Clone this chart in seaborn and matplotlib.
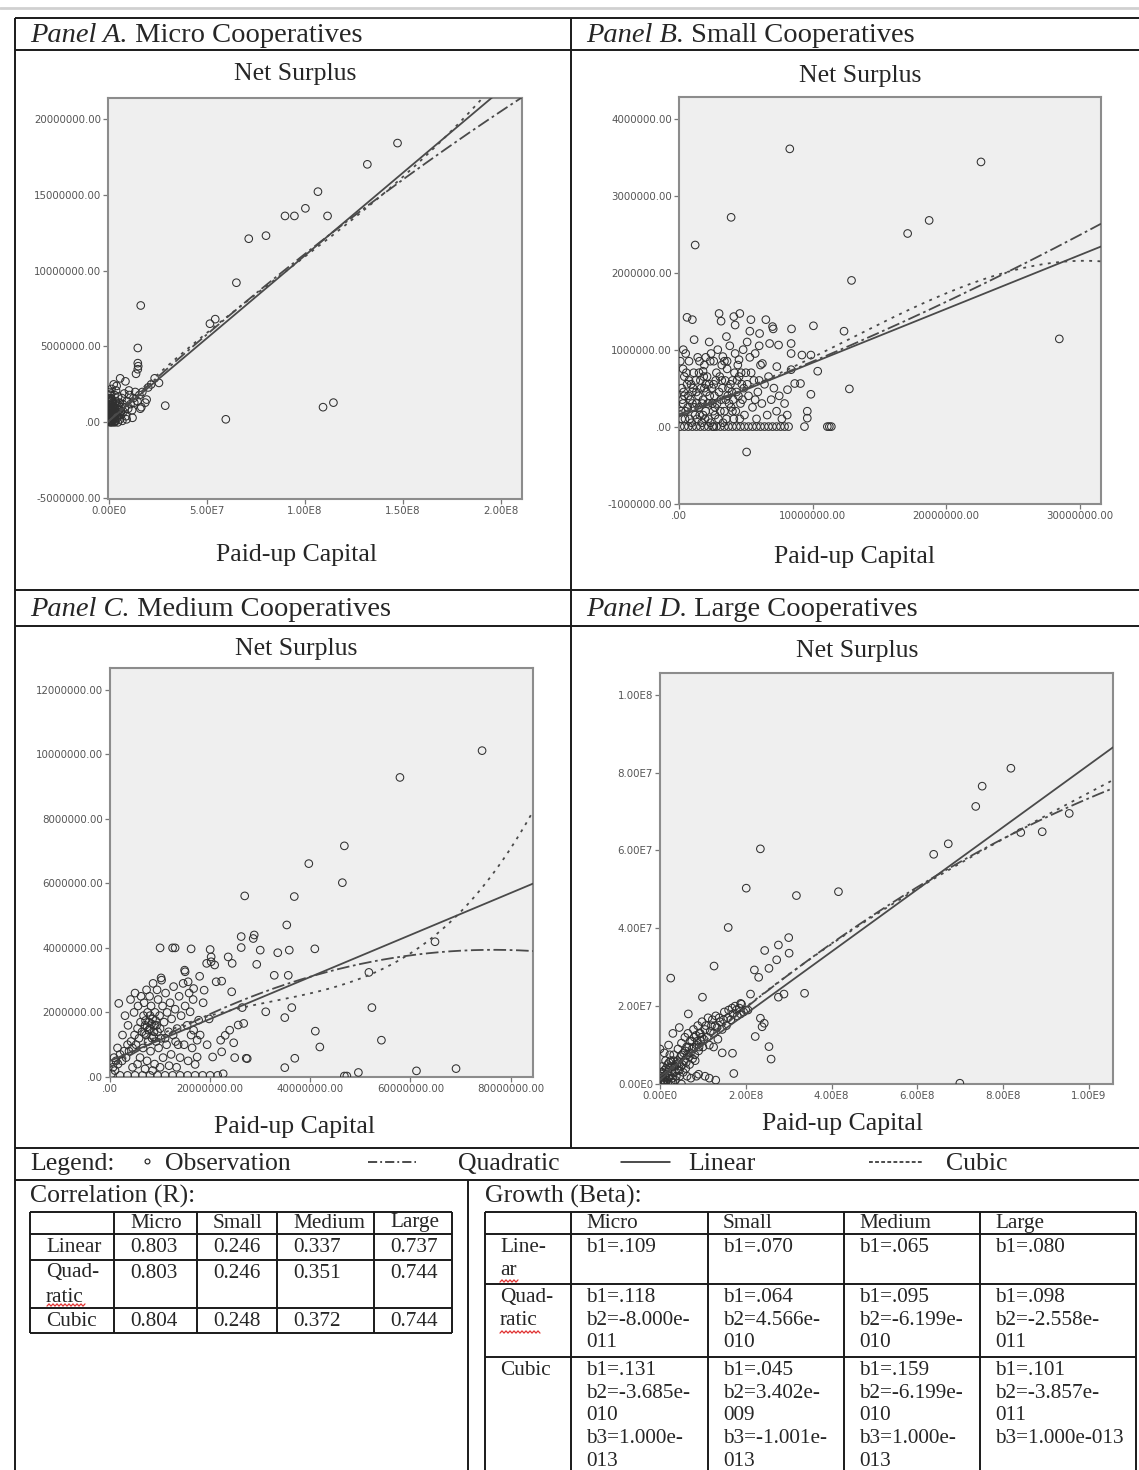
import numpy as np
import matplotlib
matplotlib.use("Agg")
import matplotlib.pyplot as plt
import seaborn as sns

W, H = 1139, 1470

# ---------------- data ----------------
# Panel A, micro cooperatives (x and y in millions)
micro_pts = [
    (147.2, 18.4), (131.8, 17.0), (106.6, 15.2), (100.2, 14.1), (89.8, 13.6), (94.6, 13.6),
    (111.5, 13.6), (71.3, 12.1), (80.1, 12.3), (65.0, 9.2), (16.2, 7.7), (51.5, 6.5),
    (54.2, 6.8), (14.7, 4.9), (14.7, 3.9), (14.9, 3.7), (14.7, 3.5), (13.8, 3.2),
    (28.7, 1.1), (59.6, 0.2), (109.2, 1.0), (114.5, 1.3), (5.7, 2.9), (8.4, 2.7),
    (3.9, 2.4), (10.2, 2.1), (23.3, 2.9), (25.5, 2.6), (19.2, 1.5), (12.9, 1.3), (16.5, 1.0),
    (0.2, 0.1), (0.4, 0.5), (0.6, 0.9), (0.3, 1.3), (0.8, 0.3), (1.0, 1.0), (1.2, 0.6),
    (1.5, 1.5), (1.7, 0.2), (2.0, 0.8), (2.2, 1.2), (2.5, 0.4), (2.8, 1.8), (3.0, 0.9),
    (3.3, 0.1), (3.5, 1.4), (3.8, 0.6), (4.1, 1.1), (4.4, 0.3), (4.7, 1.7), (5.0, 0.8),
    (5.3, 1.3), (5.6, 0.2), (5.9, 1.0), (6.2, 0.5), (6.6, 1.6), (7.0, 1.2), (7.4, 0.7),
    (7.8, 1.9), (8.2, 1.0), (8.7, 0.4), (9.2, 1.4), (9.8, 0.9), (10.4, 1.8), (11.0, 1.2),
    (11.8, 0.8), (12.5, 1.6), (13.4, 2.0), (14.5, 1.4), (15.5, 1.8), (17.0, 2.0), (18.5, 1.3),
    (20.0, 2.3), (21.5, 2.5), (0.5, 2.0), (1.3, 2.2), (2.4, 2.5), (0.1, 0.6), (0.9, 1.6),
    (1.9, 0.05), (3.6, 2.1), (0.6, 0.0), (2.9, 0.0), (4.5, 0.0), (1.1, 0.4), (6.8, 0.1),
    (9.0, 0.2), (12.0, 0.3), (16.0, 0.9),
    (0.1, 0.2), (0.2, 0.8), (0.3, 0.4), (0.4, 1.1), (0.5, 0.05), (0.6, 0.6), (0.7, 1.4),
    (0.8, 0.9), (0.9, 0.15), (1.0, 0.5), (1.1, 1.2), (1.2, 0.3), (1.3, 0.8), (1.4, 0.1),
    (1.6, 1.0), (1.8, 0.5), (1.9, 1.3), (2.1, 0.2), (2.3, 0.7), (2.6, 1.0), (2.7, 0.05),
    (3.1, 0.5), (3.2, 1.2), (3.4, 0.7), (3.9, 0.4), (4.2, 0.9), (4.6, 0.6), (5.1, 1.1),
    (5.4, 0.5), (6.0, 0.7), (0.2, 1.6), (0.6, 1.8), (1.1, 1.9), (1.6, 0.0), (0.0, 0.4),
    (0.0, 1.0), (0.1, 1.5),
]
# Panel B, small cooperatives (millions)
small_pts = [
    (8.29, 3.61), (22.6, 3.44), (3.90, 2.72), (18.72, 2.68), (17.11, 2.51), (1.21, 2.36),
    (12.91, 1.90), (28.46, 1.14), (12.75, 0.49), (5.06, -0.33), (11.1, 0.0), (11.25, 0.0),
    (11.4, 0.0), (9.39, 0.0), (10.38, 0.72), (10.06, 1.31), (12.35, 1.24), (9.87, 0.42),
    (9.6, 0.20), (9.6, 0.11), (9.09, 0.56), (8.42, 1.27), (8.39, 1.08), (7.0, 1.30),
    (7.05, 1.27), (6.5, 1.39), (5.38, 1.39), (4.55, 1.47), (4.1, 1.43), (3.0, 1.47),
    (3.15, 1.37), (0.6, 1.42), (1.0, 1.39), (1.13, 1.13), (2.26, 1.10), (3.55, 1.17),
    (4.2, 1.32), (6.03, 1.21), (5.3, 1.24), (6.78, 1.08), (7.45, 1.06), (8.39, 0.95),
    (9.2, 0.93), (9.87, 0.93), (0.32, 1.0), (0.75, 0.85), (1.53, 0.85), (2.34, 0.85),
    (1.80, 0.72), (3.28, 0.91), (4.49, 0.87), (6.24, 0.82), (7.32, 0.78), (8.39, 0.74),
    (8.66, 0.56), (8.12, 0.48),
    (0.1, 0.0), (0.4, 0.0), (0.7, 0.0), (1.0, 0.0), (1.3, 0.0), (1.6, 0.0), (1.9, 0.0),
    (2.2, 0.0), (2.5, 0.0), (2.8, 0.0), (3.1, 0.0), (3.4, 0.0), (3.7, 0.0), (4.0, 0.0),
    (4.3, 0.0), (4.6, 0.0), (4.9, 0.0), (5.2, 0.0), (5.5, 0.0), (5.8, 0.0), (6.1, 0.0),
    (6.4, 0.0), (6.7, 0.0), (7.0, 0.0), (7.3, 0.0), (7.6, 0.0), (7.9, 0.0), (8.2, 0.0),
    (0.2, 0.1), (0.3, 0.3), (0.2, 0.5), (0.4, 0.65), (0.5, 0.2), (0.7, 0.4), (0.8, 0.1),
    (0.9, 0.55), (1.0, 0.3), (1.1, 0.7), (1.2, 0.15), (1.3, 0.45), (1.5, 0.25), (1.6, 0.6),
    (1.7, 0.05), (1.8, 0.35), (1.9, 0.5), (2.0, 0.2), (2.1, 0.65), (2.2, 0.1), (2.3, 0.4),
    (2.5, 0.3), (2.6, 0.55), (2.7, 0.15), (2.8, 0.7), (3.0, 0.45), (3.1, 0.2), (3.2, 0.6),
    (3.3, 0.05), (3.5, 0.35), (3.6, 0.75), (3.7, 0.5), (3.9, 0.25), (4.0, 0.6), (4.1, 0.1),
    (4.3, 0.45), (4.4, 0.8), (4.6, 0.3), (4.7, 0.55), (4.9, 0.15), (5.0, 0.7), (5.2, 0.4),
    (5.3, 0.9), (5.5, 0.25), (5.6, 0.6), (5.8, 0.1), (5.9, 0.45), (6.1, 0.8), (6.2, 0.3),
    (6.4, 0.55), (6.6, 0.15), (6.7, 0.65), (6.9, 0.35), (7.1, 0.5), (7.3, 0.2), (7.5, 0.4),
    (7.7, 0.1), (7.9, 0.3), (8.1, 0.15), (0.1, 0.85), (0.5, 0.95), (1.4, 0.9), (2.4, 0.95),
    (2.9, 1.0), (3.4, 0.85), (3.8, 1.05), (4.8, 1.0), (5.1, 1.1), (5.7, 0.95), (6.0, 1.05),
    (0.3, 0.75), (1.9, 0.8), (2.6, 0.85), (4.2, 0.95), (1.5, 0.7), (2.0, 0.9),
    (0.15, 0.2), (0.35, 0.45), (0.45, 0.1), (0.6, 0.55), (0.65, 0.25), (0.85, 0.35),
    (0.95, 0.05), (1.05, 0.5), (1.15, 0.25), (1.25, 0.6), (1.35, 0.1), (1.45, 0.4),
    (1.55, 0.15), (1.65, 0.5), (1.75, 0.3), (1.85, 0.65), (1.95, 0.1), (2.05, 0.45),
    (2.15, 0.3), (2.25, 0.55), (2.35, 0.05), (2.45, 0.5), (2.55, 0.2), (2.65, 0.4),
    (2.75, 0.6), (2.85, 0.3), (2.95, 0.1), (3.05, 0.65), (3.15, 0.35), (3.25, 0.5),
    (3.4, 0.2), (3.45, 0.6), (3.55, 0.1), (3.65, 0.4), (3.75, 0.3), (3.85, 0.55),
    (3.95, 0.45), (4.05, 0.35), (4.15, 0.7), (4.25, 0.2), (4.35, 0.6), (4.45, 0.4),
    (4.55, 0.1), (4.65, 0.7), (4.75, 0.35), (4.85, 0.5), (5.1, 0.55), (5.4, 0.7),
    (5.7, 0.35), (6.0, 0.6), (0.25, 0.35), (0.55, 0.7), (0.75, 0.6), (1.3, 0.3),
    (2.0, 0.55), (2.6, 0.0), (3.6, 0.85), (4.0, 0.2), (4.5, 0.65), (3.2, 0.8),
    (2.7, 0.25), (1.8, 0.15), (1.0, 0.45), (0.4, 0.4),
]
# Panel C, medium cooperatives (millions)
medium_pts = [
    (74.3, 10.11), (57.9, 9.28), (46.8, 7.16), (39.7, 6.61), (46.4, 6.02), (26.9, 5.61),
    (36.8, 5.59), (35.3, 4.71), (26.2, 4.35), (28.8, 4.40), (28.6, 4.29), (26.2, 4.01),
    (30.0, 3.93), (33.5, 3.85), (35.8, 3.93), (40.9, 3.97), (10.0, 4.0), (12.5, 4.0),
    (13.0, 4.0), (16.2, 3.97), (20.0, 3.95), (20.2, 3.72), (20.2, 3.57), (23.6, 3.72),
    (24.4, 3.52), (19.3, 3.52), (20.9, 3.47), (29.3, 3.49), (32.8, 3.15), (35.6, 3.15),
    (51.7, 3.24), (64.9, 4.19), (52.3, 2.15), (54.2, 1.14), (41.0, 1.42), (41.9, 0.93),
    (31.1, 2.02), (36.3, 2.15), (34.9, 1.84), (36.9, 0.58), (34.9, 0.29), (49.6, 0.14),
    (46.8, 0.03), (47.3, 0.03), (61.2, 0.19), (69.1, 0.26), (10.2, 3.07), (1.75, 2.28),
    (15.0, 3.26), (15.6, 2.95), (16.7, 2.74), (17.9, 3.12), (18.8, 2.69), (21.2, 2.95),
    (22.3, 2.97), (24.3, 2.64), (26.4, 2.15), (26.7, 1.66), (24.7, 1.06), (23.0, 1.29),
    (22.1, 1.14), (27.2, 0.58), (24.9, 0.60), (22.3, 0.78), (22.6, 0.10), (17.0, 0.39),
    (17.4, 0.62), (20.5, 0.62), (17.4, 1.14), (16.7, 1.45), (17.7, 1.76), (16.0, 2.02),
    (23.9, 1.45), (25.6, 1.61), (27.4, 0.57), (14.9, 3.31),
    (0.3, 0.1), (0.6, 0.3), (1.0, 0.2), (1.2, 0.5), (1.6, 0.4), (2.0, 0.7), (2.4, 0.5),
    (2.8, 0.8), (3.2, 0.6), (3.5, 1.0), (3.8, 0.8), (4.2, 1.1), (4.5, 0.9), (4.9, 1.3),
    (5.2, 1.0), (5.5, 1.5), (5.8, 1.2), (6.1, 1.7), (6.4, 1.4), (6.7, 1.9), (7.0, 1.6),
    (7.2, 1.3), (7.5, 2.0), (7.8, 1.7), (8.0, 1.5), (8.2, 2.2), (8.5, 1.8), (8.8, 1.4),
    (9.0, 2.0), (9.3, 1.6), (9.6, 2.4), (9.9, 1.9), (10.2, 1.2), (10.5, 2.2), (10.8, 1.7),
    (11.1, 2.6), (11.4, 2.0), (11.7, 1.4), (12.0, 2.3), (12.3, 1.8), (12.7, 2.8), (13.0, 2.1),
    (13.4, 1.5), (13.8, 2.5), (14.2, 1.9), (14.6, 2.9), (15.0, 2.2), (15.4, 1.6), (15.8, 2.6),
    (16.2, 1.3), (16.6, 2.4), (3.0, 1.9), (3.6, 1.6), (4.1, 2.4), (4.8, 2.0), (5.0, 2.6),
    (5.6, 2.2), (6.2, 2.5), (6.8, 2.3), (7.3, 2.7), (7.9, 2.5), (8.6, 2.9), (9.4, 2.7),
    (10.3, 3.0), (6.0, 0.6), (6.6, 0.9), (7.4, 0.5), (8.1, 0.8), (8.9, 0.4), (9.7, 0.9),
    (10.6, 0.6), (11.3, 1.0), (12.2, 0.7), (13.1, 1.1), (14.0, 0.6), (14.8, 1.0), (15.6, 0.5),
    (16.4, 0.9), (7.6, 1.1), (8.4, 1.2), (9.2, 1.1), (10.0, 1.5), (11.0, 1.2), (12.6, 1.3),
    (13.6, 1.0), (2.0, 0.05), (3.5, 0.05), (5.0, 0.05), (6.5, 0.05), (8.0, 0.05), (9.5, 0.05),
    (11.0, 0.05), (12.5, 0.05), (14.0, 0.05), (15.5, 0.05), (17.0, 0.05), (18.5, 0.05),
    (20.0, 0.05), (21.5, 0.05), (4.5, 0.3), (5.5, 0.4), (7.0, 0.25), (8.5, 0.2), (10.0, 0.3),
    (11.8, 0.35), (13.3, 0.3), (2.5, 1.3), (1.5, 0.9), (0.8, 0.6), (18.0, 1.3), (18.6, 2.3),
    (19.4, 1.0), (19.8, 1.8),
    (7.1, 1.75), (7.7, 1.45), (8.3, 1.65), (8.7, 1.25), (9.1, 1.75), (7.4, 1.55), (8.0, 1.9),
    (8.9, 1.6), (6.9, 1.35), (9.5, 1.4),
]
# Panel D, large cooperatives (x in 1e8, y in 1e7)
large_pts = [
    (8.18, 8.11), (7.51, 7.65), (7.36, 7.13), (6.72, 6.17), (6.38, 5.90), (8.41, 6.46),
    (8.91, 6.48), (9.54, 6.95), (2.34, 6.04), (2.01, 5.03), (3.18, 4.84), (4.16, 4.94),
    (1.59, 4.02), (3.0, 3.76), (2.76, 3.57), (2.44, 3.43), (3.01, 3.36), (2.72, 3.19),
    (2.54, 2.97), (2.20, 2.93), (2.30, 2.74), (1.26, 3.03), (0.25, 2.72), (0.99, 2.23),
    (3.37, 2.33), (2.89, 2.31), (2.76, 2.23), (2.11, 2.31), (1.88, 2.07), (2.05, 1.90),
    (2.34, 1.69), (2.43, 1.56), (2.38, 1.47), (2.22, 1.22), (2.54, 0.96), (2.59, 0.64),
    (1.69, 0.79), (1.72, 0.27), (6.99, 0.02), (0.0, 0.9),
    (0.02, 0.05), (0.05, 0.2), (0.08, 0.1), (0.1, 0.35), (0.12, 0.05), (0.15, 0.25),
    (0.18, 0.5), (0.2, 0.15), (0.22, 0.4), (0.25, 0.6), (0.28, 0.3), (0.3, 0.05),
    (0.32, 0.75), (0.35, 0.45), (0.38, 0.2), (0.4, 0.6), (0.42, 0.9), (0.45, 0.35),
    (0.48, 0.7), (0.5, 1.05), (0.52, 0.5), (0.55, 0.8), (0.58, 1.2), (0.6, 0.4),
    (0.62, 0.95), (0.65, 1.3), (0.68, 0.7), (0.7, 1.1), (0.72, 0.15), (0.75, 0.9),
    (0.78, 1.4), (0.8, 1.2), (0.82, 0.6), (0.85, 1.0), (0.88, 1.5), (0.9, 0.85),
    (0.92, 1.3), (0.95, 1.1), (0.98, 1.6), (1.0, 0.95), (1.05, 1.4), (1.1, 1.2),
    (1.12, 1.7), (1.15, 1.0), (1.2, 1.5), (1.25, 1.3), (1.3, 1.75), (1.35, 1.15),
    (1.4, 1.6), (1.45, 1.4), (1.5, 1.85), (1.55, 1.5), (1.6, 1.9), (1.65, 1.65),
    (1.7, 1.8), (1.75, 2.0), (1.8, 1.75), (1.85, 1.95), (1.9, 2.05), (1.95, 1.85),
    (2.0, 1.9), (1.05, 0.2), (0.9, 0.25), (1.15, 0.15), (1.3, 0.1), (0.45, 1.45),
    (0.1, 0.8), (0.2, 1.0), (0.66, 1.8), (0.85, 0.2), (1.25, 0.95), (1.45, 0.8), (0.3, 1.3),
    (0.03, 0.15), (0.06, 0.3), (0.09, 0.05), (0.11, 0.2), (0.14, 0.4), (0.16, 0.1),
    (0.19, 0.3), (0.21, 0.55), (0.24, 0.2), (0.27, 0.45), (0.29, 0.15), (0.31, 0.6),
    (0.34, 0.3), (0.36, 0.1), (0.39, 0.5), (0.41, 0.35), (0.44, 0.55), (0.46, 0.2),
    (0.49, 0.45), (0.51, 0.75), (0.54, 0.3), (0.57, 0.6), (0.59, 0.85), (0.61, 0.55),
    (0.64, 0.75), (0.67, 0.95), (0.69, 0.5), (0.71, 0.8), (0.74, 1.1), (0.76, 0.65),
    (0.79, 0.95), (0.81, 0.75), (0.84, 1.25), (0.87, 1.1), (0.91, 0.95), (0.94, 1.3),
    (0.97, 1.2), (1.02, 1.15), (1.07, 1.5), (1.17, 1.35), (1.22, 1.65), (1.28, 1.5),
    (1.33, 1.45), (1.38, 1.7), (1.48, 1.65), (1.58, 1.7), (1.68, 1.95), (1.78, 1.9),
    (1.88, 1.8), (0.05, 0.45), (0.13, 0.6), (0.23, 0.75), (0.02, 0.3), (0.07, 0.0),
    (0.18, 0.0), (0.26, 0.05), (0.5, 0.0), (0.63, 0.2),
]

# fitted curves: [constant, b1, b2, b3]
micro_fit = {"linear": [1e5, 0.109], "quadratic": [1e5, 0.118, -8.0e-11],
             "cubic": [1e5, 0.131, -3.685e-10, 1.4e-18]}
small_fit = {"linear": [1.3e5, 0.070], "quadratic": [1.6e5, 0.064, 4.566e-10],
             "cubic": [2e5, 0.045, 3.402e-9, -9.1e-17]}
medium_fit = {"linear": [5e5, 0.065], "quadratic": [3e5, 0.095, -6.199e-10],
              "cubic": [3e5, 0.1271, -2.962e-9, 3.041e-17]}
large_fit = {"linear": [2e6, 0.080], "quadratic": [1e6, 0.098, -2.558e-11],
             "cubic": [1e6, 0.101, -3.857e-11, 1.14e-20]}

# tick labels as printed by SPSS
micro_xticks = [0, 5e7, 1e8, 1.5e8, 2e8]
micro_xlabels = ["0.00E0", "5.00E7", "1.00E8", "1.50E8", "2.00E8"]
micro_yticks = [-5e6, 0, 5e6, 1e7, 1.5e7, 2e7]
micro_ylabels = ["-5000000.00", ".00", "5000000.00", "10000000.00", "15000000.00", "20000000.00"]
small_xticks = [0, 1e7, 2e7, 3e7]
small_xlabels = [".00", "10000000.00", "20000000.00", "30000000.00"]
small_yticks = [-1e6, 0, 1e6, 2e6, 3e6, 4e6]
small_ylabels = ["-1000000.00", ".00", "1000000.00", "2000000.00", "3000000.00", "4000000.00"]
medium_xticks = [0, 2e7, 4e7, 6e7, 8e7]
medium_xlabels = [".00", "20000000.00", "40000000.00", "60000000.00", "80000000.00"]
medium_yticks = [0, 2e6, 4e6, 6e6, 8e6, 1e7, 1.2e7]
medium_ylabels = [".00", "2000000.00", "4000000.00", "6000000.00", "8000000.00",
                  "10000000.00", "12000000.00"]
large_xticks = [0, 2e8, 4e8, 6e8, 8e8, 1e9]
large_xlabels = ["0.00E0", "2.00E8", "4.00E8", "6.00E8", "8.00E8", "1.00E9"]
large_yticks = [0, 2e7, 4e7, 6e7, 8e7, 1e8]
large_ylabels = ["0.00E0", "2.00E7", "4.00E7", "6.00E7", "8.00E7", "1.00E8"]

# tables
size_names = ["Micro", "Small", "Medium", "Large"]
corr_rows = ["Linear", "Quad-\nratic", "Cubic"]
corr_vals = [["0.803", "0.246", "0.337", "0.737"],
             ["0.803", "0.246", "0.351", "0.744"],
             ["0.804", "0.248", "0.372", "0.744"]]
beta_rows = ["Line-\nar", "Quad-\nratic", "Cubic"]
beta_vals = [["b1=.109", "b1=.070", "b1=.065", "b1=.080"],
             ["b1=.118\nb2=-8.000e-\n011", "b1=.064\nb2=4.566e-\n010",
              "b1=.095\nb2=-6.199e-\n010", "b1=.098\nb2=-2.558e-\n011"],
             ["b1=.131\nb2=-3.685e-\n010\nb3=1.000e-\n013", "b1=.045\nb2=3.402e-\n009\nb3=-1.001e-\n013",
              "b1=.159\nb2=-6.199e-\n010\nb3=1.000e-\n013", "b1=.101\nb2=-3.857e-\n011\nb3=1.000e-013"]]

# ---------------- drawing ----------------
sns.set_theme(style="white")
plt.rcParams["font.family"] = ["Liberation Serif", "DejaVu Serif"]
ink = "#1a1a1a"
line_col = "#4a4a4a"
fit_styles = {"linear": "-", "quadratic": (0, (7, 2, 1.5, 2)), "cubic": (0, (1.6, 3))}
big = 18.5

fig = plt.figure(figsize=(W / 100, H / 100), dpi=100)
bg = fig.add_axes([0, 0, 1, 1])
bg.set_xlim(0, W)
bg.set_ylim(H, 0)
bg.axis("off")


def px_axes(l, t, r, b):
    return fig.add_axes([l / W, 1 - b / H, (r - l) / W, (b - t) / H])


def hline(y, x0, x1, **kw):
    bg.plot([x0, x1], [y, y], color=ink, lw=1.4, solid_capstyle="butt", **kw)


def vline(x, y0, y1, **kw):
    bg.plot([x, x], [y0, y1], color=ink, lw=1.4, solid_capstyle="butt", **kw)


# frame of the word table
bg.plot([0, W], [8, 8], color="#d0d0d0", lw=2)
for y in (18, 50, 590, 626, 1148, 1180):
    hline(y, 15, W)
vline(15, 18, H)
vline(571, 18, 1148)
vline(468, 1180, H)


def header(x, y, lead, rest):
    t = bg.text(x, y, lead, fontsize=20.5, style="italic", va="center", ha="left")
    bg.annotate(rest, xy=(1, 0), xycoords=t, va="bottom", ha="left", fontsize=20.5)


header(30, 35, "Panel A.", " Micro Cooperatives")
header(586, 35, "Panel B.", " Small Cooperatives")
header(30, 609, "Panel C.", " Medium Cooperatives")
header(586, 609, "Panel D.", " Large Cooperatives")

panels = [
    dict(rect=(108, 98, 522, 499), pts=micro_pts, sx=1e6, sy=1e6, fit=micro_fit,
         xlim=(-0.5e6, 2.107e8), ylim=(-5.05e6, 21.37e6),
         xt=(micro_xticks, micro_xlabels), yt=(micro_yticks, micro_ylabels),
         title=(295, 74), xlab=(296, 555)),
    dict(rect=(679, 97, 1101, 504), pts=small_pts, sx=1e6, sy=1e6, fit=small_fit,
         xlim=(0, 31.58e6), ylim=(-1.006e6, 4.284e6),
         xt=(small_xticks, small_xlabels), yt=(small_yticks, small_ylabels),
         title=(860, 76), xlab=(855, 557)),
    dict(rect=(110, 668, 533, 1077), pts=medium_pts, sx=1e6, sy=1e6, fit=medium_fit,
         xlim=(0, 84.47e6), ylim=(0, 12.67e6),
         xt=(medium_xticks, medium_xlabels), yt=(medium_yticks, medium_ylabels),
         title=(296, 649), xlab=(294, 1127)),
    dict(rect=(660, 673, 1113, 1084), pts=large_pts, sx=1e8, sy=1e7, fit=large_fit,
         xlim=(0, 1.056e9), ylim=(0, 1.0557e8),
         xt=(large_xticks, large_xlabels), yt=(large_yticks, large_ylabels),
         title=(857, 651), xlab=(843, 1124)),
]

for p in panels:
    ax = px_axes(*p["rect"])
    ax.set_facecolor("#efefef")
    xy = np.array(p["pts"])
    sns.scatterplot(x=xy[:, 0] * p["sx"], y=xy[:, 1] * p["sy"], ax=ax, marker="o",
                    s=30, facecolor="none", edgecolor="#303030", linewidth=0.75, zorder=3)
    grid = np.linspace(p["xlim"][0], p["xlim"][1], 300)
    for kind, coef in p["fit"].items():
        sns.lineplot(x=grid, y=np.polyval(coef[::-1], grid), ax=ax, color=line_col,
                     lw=1.3, linestyle=fit_styles[kind], estimator=None, zorder=4)
    ax.set_xlim(*p["xlim"])
    ax.set_ylim(*p["ylim"])
    ax.set_xticks(p["xt"][0])
    ax.set_xticklabels(p["xt"][1], fontsize=7.4, family="DejaVu Sans", color="#555555")
    ax.set_yticks(p["yt"][0])
    ax.set_yticklabels(p["yt"][1], fontsize=7.4, family="DejaVu Sans", color="#555555")
    ax.tick_params(bottom=True, left=True, direction="out", length=3.5, width=0.9,
                   color="#777777", pad=1.5)
    ax.set_xlabel("")
    ax.set_ylabel("")
    for s in ax.spines.values():
        s.set_color("#8c8c8c")
        s.set_linewidth(1.5)
    bg.text(*p["title"], "Net Surplus", ha="center", va="center", fontsize=big)
    bg.text(*p["xlab"], "Paid-up Capital", ha="center", va="center", fontsize=big)

# legend row
bg.text(30, 1164, "Legend:", fontsize=big, va="center")
bg.plot([147], [1161], marker="o", ms=3.5, mfc="none", mec=ink, mew=0.8)
bg.text(165, 1164, "Observation", fontsize=big, va="center")
bg.plot([368, 416], [1162, 1162], color=ink, lw=1.1, linestyle=(0, (6, 2, 1.2, 2)))
bg.text(458, 1164, "Quadratic", fontsize=big, va="center")
bg.plot([621, 670], [1162, 1162], color=ink, lw=1.1)
bg.text(688, 1164, "Linear", fontsize=big, va="center")
bg.plot([869, 922], [1162, 1162], color=ink, lw=1.1, linestyle=(0, (2.5, 1.5)))
bg.text(946, 1164, "Cubic", fontsize=big, va="center")

bg.text(30, 1196, "Correlation (R):", fontsize=big, va="center")
bg.text(485, 1196, "Growth (Beta):", fontsize=big, va="center")


def squiggle(x0, x1, y):
    xs = np.arange(x0, x1 + 0.1, 2.0)
    ys = y + 1.1 * (-1.0) ** np.arange(len(xs))
    bg.plot(xs, ys, color="#e03030", lw=0.9)


def draw_table(cols, rows, labels, vals, pad, first, step, size):
    for x in cols:
        vline(x, rows[0], rows[-1])
    for y in rows:
        hline(y, cols[0], cols[-1])
    cells = [[""] + size_names] + [[lab] + v for lab, v in zip(labels, vals)]
    for i, row in enumerate(cells):
        off = first - 2 if i == 0 else first
        for j, txt in enumerate(row):
            for k, line in enumerate(txt.split("\n")):
                bg.text(cols[j] + pad, rows[i] + off + k * step, line, fontsize=size,
                        va="center", ha="left")


draw_table([30, 114, 197, 277, 374, 452], [1212, 1234, 1260, 1308, 1333],
           corr_rows, corr_vals, 16, 13, 25, 15.3)
draw_table([485, 571, 708, 844, 980, 1136], [1212, 1234, 1284, 1357, H + 20],
           beta_rows, beta_vals, 15, 13.5, 22.7, 15.3)
squiggle(47, 85, 1305)
squiggle(500, 518, 1281)
squiggle(500, 540, 1332)

fig.savefig("out.png", dpi=100)
